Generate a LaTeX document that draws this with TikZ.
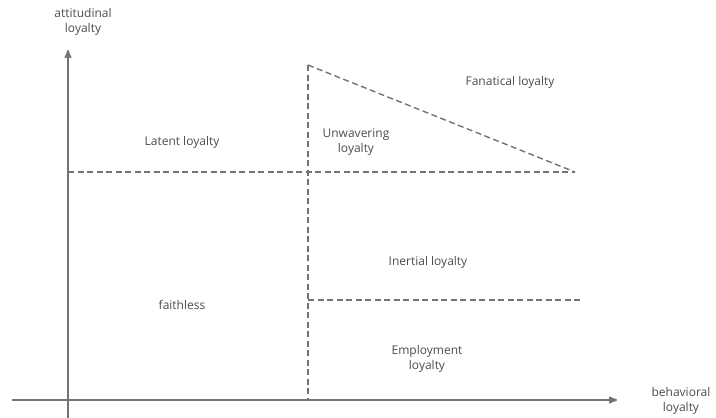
\documentclass[tikz,border=0pt]{standalone}
\usepackage{fontspec}
\setmainfont{Open Sans}
\usetikzlibrary{arrows}
\usetikzlibrary{positioning}

\begin{document}
\begin{tikzpicture}[x=1pt,y=-1pt]
        \tikzset{
          >=stealth',
          axis/.style={draw=black!55, line width=1.8pt, ->},
          border/.style={draw=black!55, line width=1.4pt, dash pattern=on 6pt off 3.5pt},
          region/.style={text=black!70, font=\fontsize{12}{15.5}\selectfont, align=center},
        }
        \useasboundingbox (0,0) rectangle (716,418);
        % axes
        \coordinate (o) at (68,400);
        \coordinate (ybot) at (68,418);
        \coordinate (ytop) at (68,50);
        \coordinate (xleft) at (12,400);
        \coordinate (xright) at (617,400);
        \draw[axis] (ybot) -- (ytop);
        \draw[axis] (xleft) -- (xright);
        \node[region] (ylab) at (83,22) {attitudinal\\loyalty};
        \node[region] (xlab) at (681,401) {behavioral\\loyalty};

        % dashed borders between the regions
        \coordinate (top) at (308,65);
        \coordinate (mid) at (308,172);
        \coordinate (base) at (308,400);
        \coordinate (left) at (68,172);
        \coordinate (tip) at (575,172);
        \coordinate (low) at (308,300);
        \coordinate (lowend) at (580,300);
        \draw[border] (top) -- (base);
        \draw[border] (top) -- (tip);
        \draw[border] (left) -- (tip);
        \draw[border] (low) -- (lowend);

        \node[region] (latent) at (182,142) {Latent loyalty};
        \node[region] (unwavering) at (356,142) {Unwavering\\loyalty};
        \node[region] (fanatical) at (510,82) {Fanatical loyalty};
        \node[region] (inertial) at (428,262) {Inertial loyalty};
        \node[region] (faithless) at (182,305) {faithless};
        \node[region] (employment) at (427,359) {Employment\\loyalty};
\end{tikzpicture}
\end{document}
